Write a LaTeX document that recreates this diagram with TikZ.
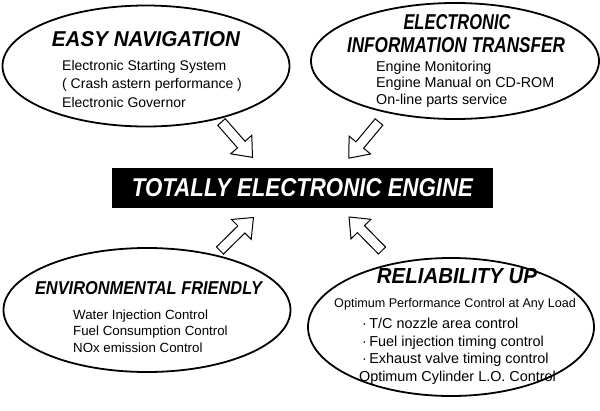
\documentclass[tikz,border=0pt]{standalone}
\usepackage{fontspec}
\setmainfont{Liberation Sans}
\usetikzlibrary{shapes.geometric}
\newcommand{\ttlbox}[3]{\resizebox{#1}{#2}{\bfseries\itshape #3}}
\tikzset{
  oval/.style={ellipse, draw=black, line width=1.8pt, inner sep=0pt},
  ttl/.style={inner sep=0pt, font=\fontsize{20}{22}\selectfont},
  body/.style={inner sep=0pt, align=left, anchor=west},
  blockarrow/.pic={\draw[line width=1pt, fill=white, line join=miter]
     (0,-5) -- (30,-5) -- (30,-14) -- (47,0) -- (30,14) -- (30,5) -- (0,5) -- cycle;}
}
\begin{document}
\begin{tikzpicture}[x=1pt,y=-1pt]
\useasboundingbox (0,0) rectangle (600,410);
% ellipses
\node[oval, minimum width=287pt, minimum height=121pt] (nav) at (146,66) {};
\node[oval, minimum width=288pt, minimum height=116pt] (info) at (455,61) {};
\node[oval, minimum width=287pt, minimum height=124pt] (env) at (147,310) {};
\node[oval, minimum width=286pt, minimum height=138pt] (rel) at (451,327) {};
% centre box
\node[fill=black, minimum width=381pt, minimum height=40pt, inner sep=0pt, text=white] (eng) at (302.5,188)
  {\ttlbox{341pt}{18pt}{TOTALLY ELECTRONIC ENGINE}};
% titles
\node[ttl] (navt) at (146,39.5) {\ttlbox{188pt}{15pt}{EASY NAVIGATION}};
\node[ttl] (infot1) at (457,22.5) {\ttlbox{107pt}{15pt}{ELECTRONIC}};
\node[ttl] (infot2) at (456,45) {\ttlbox{218pt}{15pt}{INFORMATION TRANSFER}};
\node[ttl] (envt) at (148.5,288.5) {\ttlbox{227pt}{13pt}{ENVIRONMENTAL FRIENDLY}};
\node[ttl] (relt) at (457,276) {\ttlbox{160pt}{15pt}{RELIABILITY UP}};
% bodies
\node[body, font=\fontsize{14}{18.5}\selectfont] (navb) at (62,83.5) {Electronic Starting System\\( Crash astern performance )\\Electronic Governor};
\node[body, font=\fontsize{14.3}{16.5}\selectfont] (infob) at (376,84) {Engine Monitoring\\Engine Manual on CD-ROM\\On-line parts service};
\node[body, font=\fontsize{13.3}{16.5}\selectfont] (envb) at (73,331) {Water Injection Control\\Fuel Consumption Control\\NOx emission Control};
\node[body, anchor=center, font=\fontsize{12.6}{16}\selectfont] (relb1) at (455,304.5) {Optimum Performance Control at Any Load};
\node[body, font=\fontsize{14.4}{17.5}\selectfont] (relb2) at (362,342.5) {·\,T/C nozzle area control\\·\,Fuel injection timing control\\·\,Exhaust valve timing control};
\node[body, anchor=center, font=\fontsize{14.4}{16}\selectfont] (relb3) at (457.5,378) {Optimum Cylinder L.O. Control};
% arrows
\coordinate (a1) at (221.5,122);
\coordinate (a2) at (379,122);
\coordinate (a3) at (220,250.5);
\coordinate (a4) at (382,250.5);
\pic[rotate=-48.8] at (a1) {blockarrow};
\pic[rotate=-129.8] at (a2) {blockarrow};
\pic[rotate=44.6] at (a3) {blockarrow};
\pic[rotate=134.5] at (a4) {blockarrow};
\end{tikzpicture}
\end{document}
